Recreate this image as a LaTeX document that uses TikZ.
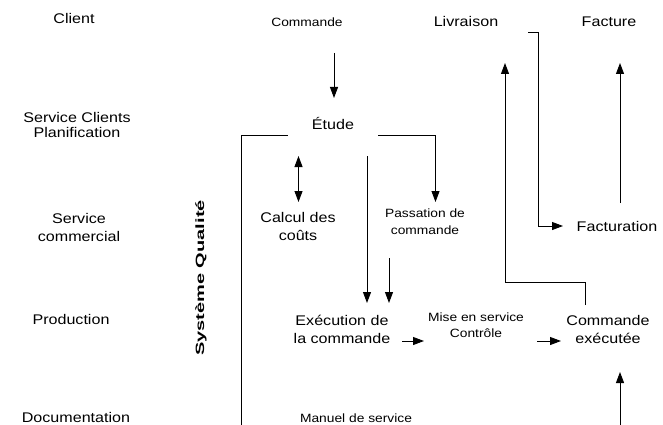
\documentclass[tikz,border=0pt]{standalone}
\usepackage{fontspec}
\setmainfont{Liberation Sans}[FakeStretch=1.15]
\usetikzlibrary{arrows.meta}
\begin{document}
\begin{tikzpicture}[x=1pt,y=-1pt,
  big/.style={font=\fontsize{14}{18}\selectfont, inner sep=0pt, align=center},
  small/.style={font=\fontsize{12}{16}\selectfont, inner sep=0pt, align=center},
  conn/.style={line width=0.9pt},
  arr/.style={conn,-{Triangle[length=11pt,width=8pt]}},
  darr/.style={conn,{Triangle[length=11pt,width=8pt]}-{Triangle[length=11pt,width=8pt]}}]
\useasboundingbox (0,0) rectangle (663,425);
\clip (0,0) rectangle (663,425);
% row labels
\node[big] (client) at (74,18) {Client};
\node[big, font=\fontsize{14}{15}\selectfont] (scp) at (77,125) {Service Clients\\Planification};
\node[big] (scom) at (79,227) {Service\\commercial};
\node[big] (prod) at (71,319) {Production};
\node[big, anchor=base] (doc) at (76,422) {Documentation};
\node[rotate=90, inner sep=0pt] (sq) at (201,278) {\scalebox{1.45}[1]{\fontsize{12}{14}\selectfont\bfseries Système Qualité}};
% process nodes
\node[small] (cmd) at (307,22) {Commande};
\node[big] (livr) at (466,21) {Livraison};
\node[big] (fact) at (609,22) {Facture};
\node[big] (etude) at (333,123) {Étude};
\node[big] (calc) at (298,226) {Calcul des\\coûts};
\node[small, font=\fontsize{12}{17}\selectfont] (pass) at (425,222) {Passation de\\commande};
\node[big] (factu) at (617,226) {Facturation};
\node[big] (exec) at (342,329) {Exécution de\\la commande};
\node[small] (mise) at (476,325) {Mise en service\\Contrôle};
\node[big] (cmdx) at (608,329) {Commande\\exécutée};
\node[small, anchor=base] (man) at (356,422) {Manuel de service};
% coordinates
\coordinate (c1) at (334,53);
\coordinate (c2) at (334,98);
\coordinate (bl) at (241,440);
\coordinate (bt) at (241,135);
\coordinate (el) at (288,135);
\coordinate (er) at (378,135);
\coordinate (pt) at (435.5,135);
\coordinate (pa) at (435.5,202);
\coordinate (d1) at (298.5,156);
\coordinate (d2) at (298.5,202);
\coordinate (v1) at (367,156);
\coordinate (v1e) at (367,303);
\coordinate (v2) at (389,258);
\coordinate (v2e) at (389,303);
\coordinate (cx1) at (585,305);
\coordinate (cx2) at (585,282);
\coordinate (lv1) at (505,282);
\coordinate (lv2) at (505,63);
\coordinate (lf1) at (528,32);
\coordinate (lf2) at (538,32);
\coordinate (lf3) at (538,226);
\coordinate (lf4) at (563,226);
\coordinate (fa1) at (620,203);
\coordinate (fa2) at (620,63);
\coordinate (em1) at (402,341);
\coordinate (em2) at (424,341);
\coordinate (mc1) at (537,341);
\coordinate (mc2) at (561,341);
\coordinate (b1) at (620,440);
\coordinate (b2) at (620,372);
% connectors
\draw[arr] (c1) -- (c2);
\draw[conn] (bl) -- (bt) -- (el);
\draw[arr] (er) -- (pt) -- (pa);
\draw[darr] (d1) -- (d2);
\draw[arr] (v1) -- (v1e);
\draw[arr] (v2) -- (v2e);
\draw[arr] (cx1) -- (cx2) -- (lv1) -- (lv2);
\draw[arr] (lf1) -- (lf2) -- (lf3) -- (lf4);
\draw[arr] (fa1) -- (fa2);
\draw[arr] (em1) -- (em2);
\draw[arr] (mc1) -- (mc2);
\draw[arr] (b1) -- (b2);
\end{tikzpicture}
\end{document}
